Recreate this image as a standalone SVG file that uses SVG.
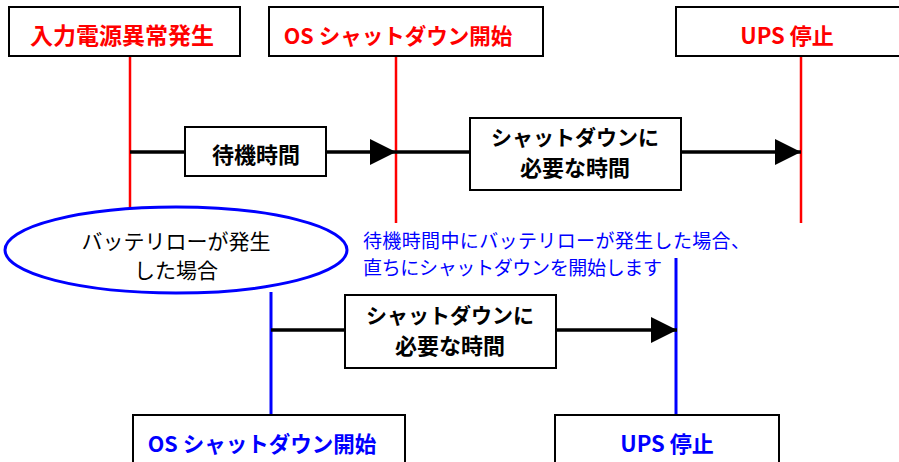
<svg xmlns="http://www.w3.org/2000/svg" width="899" height="462" viewBox="0 0 899 462">
<style>
.box{fill:#fff;stroke:#000;stroke-width:2}
.t{font-family:"Noto Sans CJK JP","Noto Sans",sans-serif;text-anchor:middle}
.b{font-weight:bold}
.red{fill:#ff0000}
.blue{fill:#0000ff}
.blk{fill:#000}
.rl{stroke:#ff0000;stroke-width:2.5;fill:none}
.bl{stroke:#0000ff;stroke-width:3;fill:none}
.ar{stroke:#000;stroke-width:3.5;fill:none}
</style>
<defs>
<marker id="ah" markerUnits="userSpaceOnUse" markerWidth="28" markerHeight="28" refX="26" refY="13" orient="auto">
<path d="M0,0 L26,13 L0,26 Z" fill="#000"/>
</marker>
</defs>
<g id="connectors">
<line class="rl" x1="130" y1="56" x2="130" y2="208"/>
<line class="rl" x1="396" y1="56" x2="396" y2="223"/>
<line class="rl" x1="801" y1="56" x2="801" y2="223"/>
<line class="bl" x1="271" y1="292" x2="271" y2="415"/>
<line class="bl" x1="676" y1="258" x2="676" y2="415"/>
<line class="ar" x1="130" y1="152" x2="186" y2="152"/>
<line class="ar" x1="326" y1="152" x2="396" y2="152" marker-end="url(#ah)"/>
<line class="ar" x1="396" y1="152" x2="471" y2="152"/>
<line class="ar" x1="681" y1="152" x2="801" y2="152" marker-end="url(#ah)"/>
<line class="ar" x1="271" y1="330" x2="346" y2="330"/>
<line class="ar" x1="556" y1="330" x2="677" y2="330" marker-end="url(#ah)"/>
</g>
<g id="n-power">
<rect class="box" x="9" y="7" width="231" height="49"/>
<text class="t b red" x="122" y="44" font-size="23">入力電源異常発生</text>
</g>
<g id="n-os-start">
<rect class="box" x="269" y="7" width="274" height="49"/>
<text class="t b red" x="398" y="44" font-size="21.5">OS シャットダウン開始</text>
</g>
<g id="n-ups-stop">
<rect class="box" x="676" y="7" width="230" height="49"/>
<text class="t b red" x="787" y="44" font-size="22">UPS 停止</text>
</g>
<g id="n-wait">
<rect class="box" x="185" y="127" width="141" height="49"/>
<text class="t b blk" x="256" y="163" font-size="22">待機時間</text>
</g>
<g id="n-shutdown-time">
<rect class="box" x="470" y="118" width="211" height="72"/>
<text class="t b blk" x="575" y="145" font-size="21">シャットダウンに</text>
<text class="t b blk" x="575" y="176" font-size="22">必要な時間</text>
</g>
<g id="n-battery-low">
<ellipse cx="176" cy="250" rx="171" ry="43" fill="#fff" stroke="#0000ff" stroke-width="3"/>
<text class="t blk" x="176" y="249" font-size="21">バッテリローが発生</text>
<text class="t blk" x="176" y="278" font-size="21">した場合</text>
</g>
<g id="n-note">
<text class="blue" x="363" y="248" font-size="19" font-family="'Noto Sans CJK JP',sans-serif" textLength="387" lengthAdjust="spacing">待機時間中にバッテリローが発生した場合、</text>
<text class="blue" x="363" y="275" font-size="19" font-family="'Noto Sans CJK JP',sans-serif" textLength="299" lengthAdjust="spacing">直ちにシャットダウンを開始します</text>
</g>
<g id="n-shutdown-time2">
<rect class="box" x="345" y="295" width="211" height="73"/>
<text class="t b blk" x="450" y="323" font-size="21">シャットダウンに</text>
<text class="t b blk" x="450" y="354" font-size="22">必要な時間</text>
</g>
<g id="n-os-start2">
<rect class="box" x="133" y="415" width="272" height="60"/>
<text class="t b blue" x="262" y="452" font-size="21.5">OS シャットダウン開始</text>
</g>
<g id="n-ups-stop2">
<rect class="box" x="555" y="415" width="224" height="60"/>
<text class="t b blue" x="667" y="452" font-size="22">UPS 停止</text>
</g>
</svg>
